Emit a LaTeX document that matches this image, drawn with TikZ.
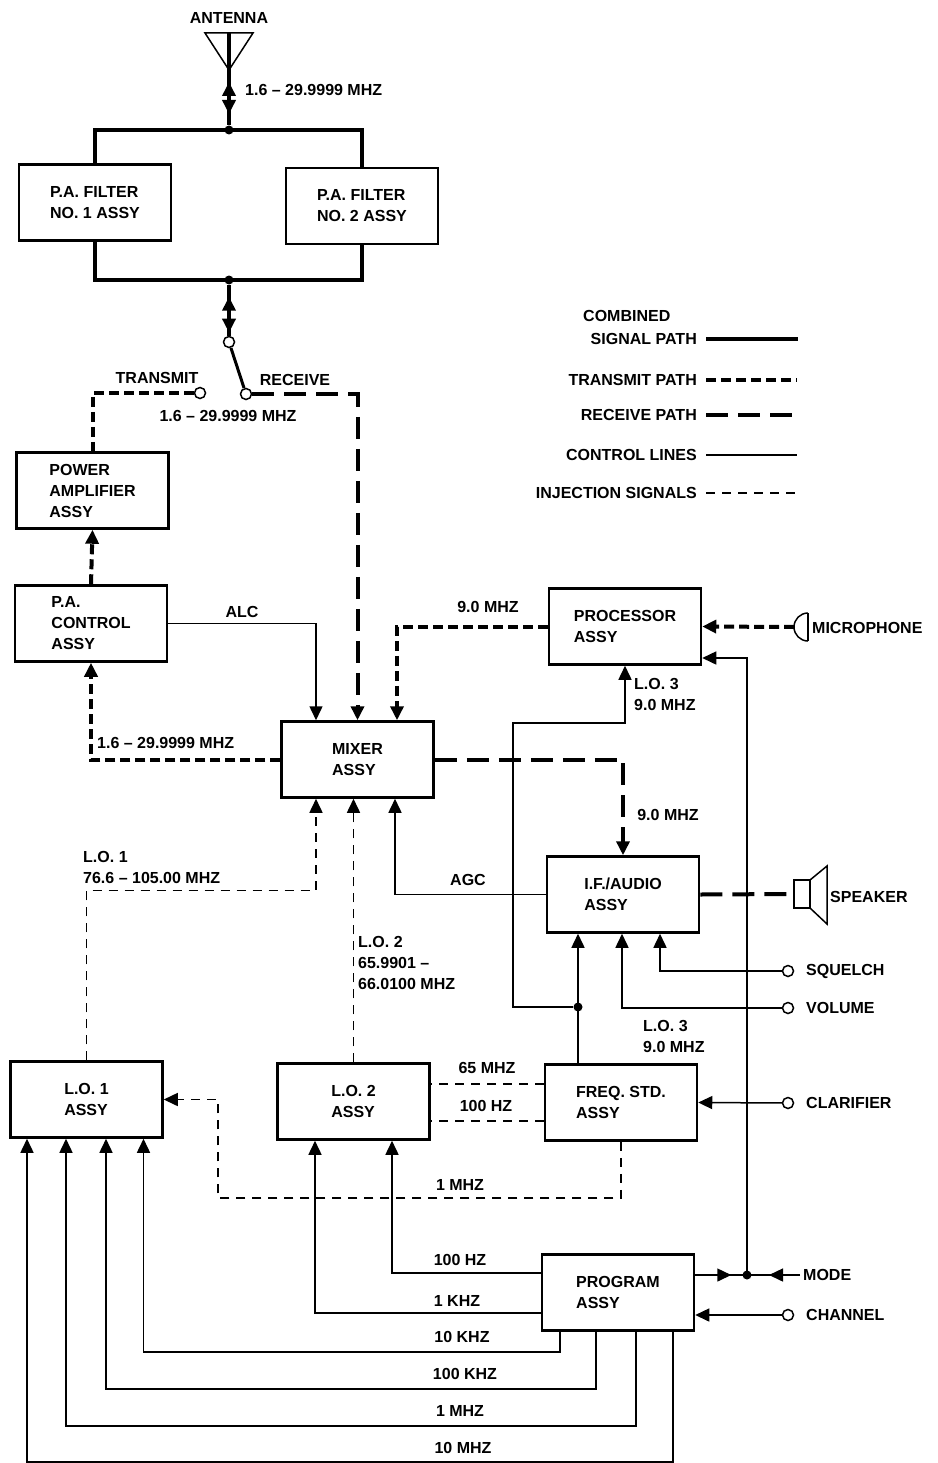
\documentclass[tikz,border=0pt]{standalone}
\usepackage{fontspec}
\setmainfont{Liberation Sans}
\usetikzlibrary{arrows.meta,decorations.markings}

\begin{document}
\begin{tikzpicture}[x=1pt, y=-1pt, font=\bfseries\fontsize{16}{21}\selectfont, >={Triangle[width=13pt,length=14pt]}]
    \tikzstyle{assy}=[draw, line width=2.5pt, minimum width=152pt, minimum height=76pt, align=left, inner sep=0pt]
    \tikzstyle{contact}=[circle, draw, line width=1.5pt, fill=white, inner sep=0pt, minimum size=11pt]
    \tikzstyle{junction}=[circle, fill, inner sep=0pt, minimum size=9pt]
    \tikzstyle{combinedpath}=[line width=4pt]
    \tikzstyle{txpath}=[line width=4pt, dash pattern=on 10pt off 5pt]
    \tikzstyle{rxpath}=[line width=4pt, dash pattern=on 22pt off 10pt]
    \tikzstyle{ctrlpath}=[line width=1.5pt]
    \tikzstyle{injpath}=[line width=1.5pt, dash pattern=on 9pt off 7pt]
    \tikzstyle{freqtext}=[inner sep=0pt, align=left]
    \tikzset{tipat/.style={postaction={decorate, decoration={markings, mark=at position #1 with {\arrow{>}}}}}}
    \path[fill=white, use as bounding box] (0,0) rectangle (937,1463);

    % antenna and p.a. filters
    \node[freqtext] at (229,18) {ANTENNA};
    \coordinate (antenna) at (229,33);
    \draw[ctrlpath] (205,33) -- (253,33) -- (229,70) -- cycle;
    \node[junction] (topjoin) at (229,130) {};
    \node[junction] (botjoin) at (229,280) {};
    \node[assy] (filterone) at (95,202.5) {P.A. FILTER\\NO. 1 ASSY};
    \node[assy] (filtertwo) at (362,206) {P.A. FILTER\\NO. 2 ASSY};
    \draw[combinedpath, postaction={decorate, decoration={markings, mark=at position 49pt with {\arrowreversed{>}}, mark=at position 81pt with {\arrow{>}}}}] (antenna) -- (topjoin);
    \node[freqtext, anchor=west] at (245,90) {1.6 – 29.9999 MHZ};
    \draw[combinedpath] (filterone.north) |- (topjoin.center) -| (filtertwo.north);
    \draw[combinedpath] (filterone.south) |- (botjoin.center) -| (filtertwo.south);

    % transmit / receive switch
    \node[contact] (pivot) at (229,342) {};
    \node[contact] (txcontact) at (200,393) {};
    \node[contact] (rxcontact) at (246,394) {};
    \draw[combinedpath, postaction={decorate, decoration={markings, mark=at position 12pt with {\arrowreversed{>}}, mark=at position 48pt with {\arrow{>}}}}] (botjoin) -- (pivot);
    \draw[line width=3pt] (pivot) -- (rxcontact);
    \node[freqtext] at (157,378) {TRANSMIT};
    \node[freqtext] at (295,380) {RECEIVE};
    \node[freqtext] at (228,416) {1.6 – 29.9999 MHZ};

    % transmit chain
    \node[assy] (poweramp) at (92.5,490.5) {POWER\\AMPLIFIER\\ASSY};
    \node[assy] (pacontrol) at (91,623.5) {P.A.\\CONTROL\\ASSY};
    \node[assy] (mixer) at (357.5,759.5) {MIXER\\ASSY};
    \draw[txpath] (txcontact) -| (poweramp.north);
    \draw[txpath,->] (pacontrol.north) -- (poweramp.south);
    \draw[rxpath,->] (rxcontact) -| (mixer.north);
    \draw[ctrlpath,->] (pacontrol.east) -| ([xshift=-41.5pt]mixer.north);
    \node[freqtext] at (242,612) {ALC};
    \draw[txpath,->] (mixer.west) -| (pacontrol.south);
    \node[freqtext, anchor=west] at (97,743) {1.6 – 29.9999 MHZ};

    % processor and microphone
    \node[assy] (processor) at (625,626.5) {PROCESSOR\\ASSY};
    \draw[txpath,->] (processor.west) -| ([xshift=39.5pt]mixer.north);
    \node[freqtext] at (488,607) {9.0 MHZ};
    \draw[ctrlpath] (808,613) arc[start angle=270, end angle=90, radius=14];
    \draw[ctrlpath] (808,613) -- (808,641);
    \coordinate (mic) at (794,627);
    \draw[txpath,->] (mic) -- (processor.east);
    \node[freqtext, anchor=west] at (812,628) {MICROPHONE};

    % receive chain and speaker
    \node[assy] (ifaudio) at (623,894.5) {I.F./AUDIO\\ASSY};
    \draw[rxpath,->] (mixer.east) -| (ifaudio.north);
    \node[freqtext] at (668,815) {9.0 MHZ};
    \draw[ctrlpath,->] (ifaudio.west) -| ([xshift=37.5pt]mixer.south);
    \node[freqtext] at (468,880) {AGC};
    \draw[ctrlpath] (794,880) rectangle (810,908);
    \draw[ctrlpath] (810,880) -- (827,866) -- (827,924) -- (810,908);
    \coordinate (speaker) at (794,894);
    \draw[rxpath] (ifaudio.east) -- (speaker);
    \node[freqtext, anchor=west] at (830,897) {SPEAKER};

    % frequency standard, l.o. 3
    \node[assy] (freqstd) at (621,1102.5) {FREQ. STD.\\ASSY};
    \node[junction] (lojoin) at (578,1007) {};
    \draw[ctrlpath,->] (freqstd.north -| lojoin) -- (lojoin |- ifaudio.south);
    \draw[ctrlpath,->] (lojoin) -| (513,723) -| (processor.south);
    \node[freqtext, anchor=north west] at (634,678) {L.O. 3\\9.0 MHZ};
    \node[freqtext, anchor=north west] at (643,1020) {L.O. 3\\9.0 MHZ};

    % front panel controls
    \node[contact] (squelch) at (788,971) {};
    \node[contact] (volume) at (788,1008) {};
    \node[contact] (clarifier) at (788,1103) {};
    \node[contact] (channel) at (788,1315) {};
    \draw[ctrlpath,->] (squelch) -| ([xshift=37pt]ifaudio.south);
    \draw[ctrlpath,->] (volume) -| ([xshift=-1pt]ifaudio.south);
    \draw[ctrlpath,->] (clarifier) -- (freqstd.east);
    \node[freqtext, anchor=west] at (806,971) {SQUELCH};
    \node[freqtext, anchor=west] at (806,1008) {VOLUME};
    \node[freqtext, anchor=west] at (806,1103) {CLARIFIER};
    \node[freqtext, anchor=west] at (806,1315) {CHANNEL};

    % local oscillators
    \node[assy] (lotwo) at (353.5,1101.5) {L.O. 2\\ASSY};
    \node[assy] (loone) at (86.5,1099.5) {L.O. 1\\ASSY};
    \draw[injpath,->] (lotwo.north) -- (lotwo.north |- mixer.south);
    \node[freqtext, anchor=north west] at (358,936) {L.O. 2\\65.9901 –\\66.0100 MHZ};
    \draw[injpath,->] (loone.north) -- ++(0,-170) -| ([xshift=-41.5pt]mixer.south);
    \node[freqtext, anchor=south west] at (83,884) {L.O. 1\\76.6 – 105.00 MHZ};
    \draw[injpath] ([yshift=18.5pt]freqstd.west) -- ([yshift=18.5pt]freqstd.west -| lotwo.east);
    \draw[injpath] ([yshift=-18.5pt]freqstd.west) -- ([yshift=-18.5pt]freqstd.west -| lotwo.east);
    \node[freqtext] at (487,1068) {65 MHZ};
    \node[freqtext] at (486,1106) {100 HZ};
    \coordinate (lobend) at (218,1198);
    \draw[injpath,->] (freqstd.south) |- (lobend) |- (loone.east);
    \node[freqtext] at (460,1185) {1 MHZ};

    % program assy
    \node[assy] (program) at (618,1292.5) {PROGRAM\\ASSY};
    \draw[ctrlpath,->] ([yshift=19.5pt]program.west) -| ([xshift=38.5pt]lotwo.south);
    \draw[ctrlpath,->] ([yshift=-20.5pt]program.west) -| ([xshift=-38.5pt]lotwo.south);
    \node[freqtext] at (460,1260) {100 HZ};
    \node[freqtext] at (457,1301) {1 KHZ};
    \draw[ctrlpath,->] ([xshift=-58pt]program.south) -- ++(0,20) -| ([xshift=57pt]loone.south);
    \draw[ctrlpath,->] ([xshift=-22pt]program.south) -- ++(0,57) -| ([xshift=19.5pt]loone.south);
    \draw[ctrlpath,->] ([xshift=18pt]program.south) -- ++(0,94) -| ([xshift=-20.5pt]loone.south);
    \draw[ctrlpath,->] ([xshift=55pt]program.south) -- ++(0,130) -| ([xshift=-59.5pt]loone.south);
    \node[freqtext] at (462,1337) {10 KHZ};
    \node[freqtext] at (465,1374) {100 KHZ};
    \node[freqtext] at (460,1411) {1 MHZ};
    \node[freqtext] at (463,1448) {10 MHZ};
    \coordinate (modein) at (800,1275);
    \node[junction] (modejoin) at (747,1275) {};
    \draw[ctrlpath, tipat=36pt] ([yshift=17.5pt]program.east) -- (modejoin.center);
    \draw[ctrlpath, tipat=31pt] (modein) -- (modejoin.center);
    \draw[ctrlpath,->] (modejoin.center) |- ([yshift=-31.5pt]processor.east);
    \node[freqtext, anchor=west] at (803,1275) {MODE};
    \draw[ctrlpath,->] (channel) -- ([yshift=-22.5pt]program.east);

    % legend
    \node[freqtext, anchor=west] at (583,316) {COMBINED};
    \node[freqtext, anchor=east] (legcombined) at (697,339) {SIGNAL PATH};
    \node[freqtext, anchor=east] (legtx) at (697,380) {TRANSMIT PATH};
    \node[freqtext, anchor=east] (legrx) at (697,415) {RECEIVE PATH};
    \node[freqtext, anchor=east] (legctrl) at (697,455) {CONTROL LINES};
    \node[freqtext, anchor=east] (leginj) at (697,493) {INJECTION SIGNALS};
    \draw[combinedpath] ([xshift=9pt]legcombined.east) -- ++(92,0);
    \draw[txpath] ([xshift=9pt]legtx.east) -- ++(91,0);
    \draw[rxpath] ([xshift=9pt]legrx.east) -- ++(91,0);
    \draw[ctrlpath] ([xshift=9pt]legctrl.east) -- ++(91,0);
    \draw[injpath] ([xshift=9pt]leginj.east) -- ++(89,0);
\end{tikzpicture}
\end{document}
